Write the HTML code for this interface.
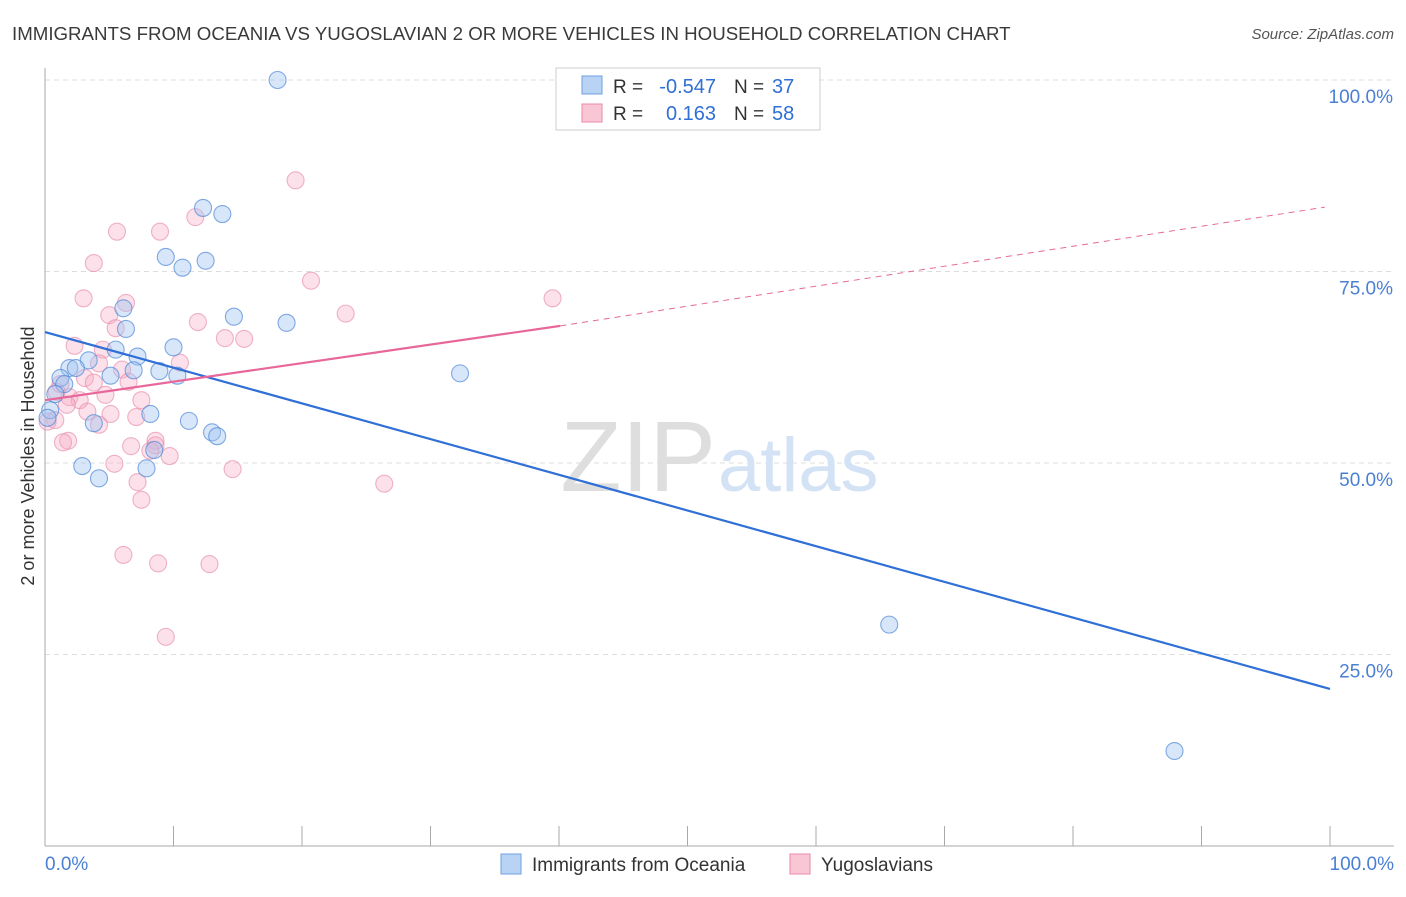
<!DOCTYPE html>
<html><head><meta charset="utf-8"><style>
body{margin:0;background:#fff;font-family:"Liberation Sans",sans-serif;}
svg text{font-family:"Liberation Sans",sans-serif;white-space:pre;}
</style></head><body>
<svg width="1406" height="892" viewBox="0 0 1406 892">
<text x="12" y="40" font-size="18.7" fill="#3a3a3a">IMMIGRANTS FROM OCEANIA VS YUGOSLAVIAN 2 OR MORE VEHICLES IN HOUSEHOLD CORRELATION CHART</text>
<text x="1394" y="39" font-size="15" fill="#555" text-anchor="end" font-style="italic">Source: ZipAtlas.com</text>
<g id="grid"></g>
<text x="716" y="491" font-size="100" fill="#dedede" text-anchor="end" font-family="Liberation Serif">ZIP</text>
<text x="718" y="491" font-size="76" fill="#d3e2f4">atlas</text>
<g id="pts"></g>
<g id="lines"></g>
<text transform="translate(34,456) rotate(-90)" font-size="18" fill="#333" text-anchor="middle">2 or more Vehicles in Household</text>
<text x="45" y="870" font-size="19" fill="#4a7fd4">0.0%</text>
<text x="1394" y="870" font-size="19" fill="#4a7fd4" text-anchor="end">100.0%</text>
<g>
<rect x="556" y="68" width="264" height="62" fill="#fff" stroke="#ccc"/>
<rect x="582" y="76" width="20" height="18" fill="#b9d3f5" stroke="#6f9fe0"/>
<rect x="582" y="104" width="20" height="18" fill="#f9c6d6" stroke="#e98aaa"/>
<text x="613" y="93" font-size="19" fill="#333">R =</text>
<text x="716" y="93" font-size="20" fill="#2f6fd6" text-anchor="end">-0.547</text>
<text x="734" y="93" font-size="19" fill="#333">N =</text>
<text x="772" y="93" font-size="20" fill="#2f6fd6">37</text>
<text x="613" y="120" font-size="19" fill="#333">R =</text>
<text x="716" y="120" font-size="20" fill="#2f6fd6" text-anchor="end">0.163</text>
<text x="734" y="120" font-size="19" fill="#333">N =</text>
<text x="772" y="120" font-size="20" fill="#2f6fd6">58</text>
</g>
<g>
<rect x="501" y="854" width="20" height="20" fill="#b9d3f5" stroke="#6f9fe0"/>
<text x="532" y="871" font-size="19" fill="#333">Immigrants from Oceania</text>
<rect x="790" y="854" width="20" height="20" fill="#f9c6d6" stroke="#e98aaa"/>
<text x="821" y="871" font-size="19" fill="#333">Yugoslavians</text>
</g>
</svg>
<script>
const yTicks=[25,50,75,100];
const yTickLabels=["25.0%","50.0%","75.0%","100.0%"];
const blueX=[18.1,12.3,13.8,9.4,10.7,12.5,14.7,18.8,6.1,6.3,5.5,10.0,7.2,3.4,1.9,2.4,1.2,1.5,5.1,6.9,8.9,10.3,32.3,8.2,11.2,3.8,13.0,13.4,8.5,2.9,7.9,4.2,65.7,87.9,0.4,0.2,0.8];
const blueY=[100,83.3,82.5,76.9,75.5,76.4,69.1,68.3,70.2,67.5,64.8,65.1,63.9,63.4,62.4,62.4,61.1,60.3,61.4,62.1,62.0,61.4,61.7,56.4,55.5,55.2,54.0,53.5,51.7,49.6,49.3,48.0,28.9,12.4,56.9,55.9,59.0];
const pinkX=[19.5,5.6,8.95,11.7,3.8,20.7,3.0,6.3,39.5,23.4,11.9,5.0,5.5,14.0,15.5,2.3,4.5,10.5,4.2,6.0,6.5,3.1,3.8,1.2,0.9,1.9,2.7,4.7,7.5,1.7,3.3,5.1,7.1,0.8,4.2,1.8,1.4,6.7,8.6,8.6,9.7,8.2,5.4,14.6,26.4,7.2,7.5,6.1,8.8,12.8,9.4,0.2];
const pinkY=[86.9,80.2,80.2,82.1,76.1,73.8,71.5,70.9,71.5,69.5,68.4,69.3,67.6,66.3,66.2,65.3,64.8,63.1,63.0,62.2,60.6,61.1,60.5,60.3,59.3,58.6,58.2,58.9,58.2,57.6,56.7,56.4,56.0,55.6,55.0,52.9,52.7,52.2,52.9,52.3,50.9,51.6,49.9,49.2,47.3,47.5,45.2,38.0,36.9,36.8,27.3,55.4];
const blueTrend=[[0,67.1],[100,20.5]];
const pinkTrend=[[0,58.2],[40.1,67.9]];
const pinkDash=[[40.1,67.9],[99.6,83.4]];
const NS="http://www.w3.org/2000/svg";
const xs=v=>45+12.85*v, ys=v=>846-7.66*v;
function mk(t,a,p){const e=document.createElementNS(NS,t);for(const k in a)e.setAttribute(k,a[k]);p.appendChild(e);return e;}
const g=document.getElementById('grid');
yTicks.forEach((t,i)=>{
 const l=mk('line',{x1:45,x2:1394,y1:ys(t),y2:ys(t),stroke:'#ddd','stroke-dasharray':'5,4'},g);
 
 
 const tx=mk('text',{x:1393,y:ys(t)+23,'font-size':19,fill:'#4a7fd4','text-anchor':'end'},g);
 tx.textContent=yTickLabels[i];
 
 
});
const ax=mk('line',{x1:45,x2:45,y1:68,y2:846,stroke:'#aaa'},g);


const bx=mk('line',{x1:45,x2:1394,y1:846,y2:846,stroke:'#aaa'},g);


for(let i=0;i<=10;i++){const tk=mk('line',{x1:xs(i*10),x2:xs(i*10),y1:826,y2:846,stroke:'#aaa'},g);
 
 }
const p=document.getElementById('pts');
pinkX.forEach((x,i)=>{const c=mk('circle',{cx:xs(x),cy:ys(pinkY[i]),r:8.5,fill:'rgba(245,170,195,0.35)',stroke:'rgba(230,140,170,0.65)','stroke-width':1.1},p);
 
 });
blueX.forEach((x,i)=>{const c=mk('circle',{cx:xs(x),cy:ys(blueY[i]),r:8.5,fill:'rgba(160,195,240,0.42)',stroke:'rgba(80,135,215,0.7)','stroke-width':1.1},p);
 
 });
const L=document.getElementById('lines');
const b=mk('line',{x1:xs(blueTrend[0][0]),y1:ys(blueTrend[0][1]),x2:xs(blueTrend[1][0]),y2:ys(blueTrend[1][1]),stroke:'#2f6fd6','stroke-width':2.2},L);


const pk=mk('line',{x1:xs(pinkTrend[0][0]),y1:ys(pinkTrend[0][1]),x2:xs(pinkTrend[1][0]),y2:ys(pinkTrend[1][1]),stroke:'#e8679a','stroke-width':2.2},L);


const pd=mk('line',{x1:xs(pinkDash[0][0]),y1:ys(pinkDash[0][1]),x2:xs(pinkDash[1][0]),y2:ys(pinkDash[1][1]),stroke:'#e8679a','stroke-width':1,'stroke-dasharray':'6,5'},L);


</script>
</body></html>
